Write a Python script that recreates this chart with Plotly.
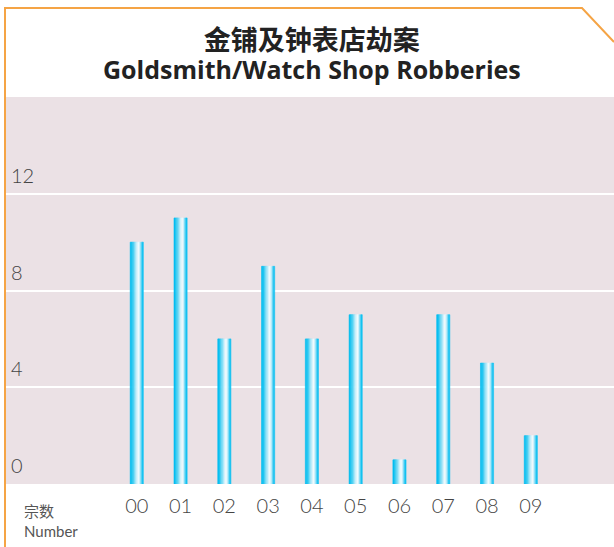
import plotly.graph_objects as go

years = ["00", "01", "02", "03", "04", "05", "06", "07", "08", "09"]
robberies = [10, 11, 6, 9, 6, 7, 1, 7, 5, 2]
y_ticks = [0, 4, 8, 12]
y_tick_labels = ["0", "4", "8", "12"]

title_cn = "金铺及钟表店劫案"
title_en = "Goldsmith/Watch Shop Robberies"
unit_cn = "宗数"
unit_en = "Number"

# horizontal gradient strips across each bar
strip_colors = ["#00bdf0", "#19c4f1", "#45cff3", "#79dcf6", "#a9e8f9",
                "#d6f4fc", "#f4fcfe", "#c9f0fb", "#6fd9f6", "#14c2f1"]
bar_width = 0.3
n = len(strip_colors)
sw = bar_width / n

W, H = 614, 547
ml, mr, mt, mb = 5, 0, 97, 63
pw, ph = W - ml - mr, H - mt - mb

def px2paper(px, py):
    return (px - ml) / pw, (H - mb - py) / ph

xs = list(range(len(years)))
fig = go.Figure()
for i, c in enumerate(strip_colors):
    fig.add_trace(go.Bar(
        x=xs, y=robberies, width=sw, offset=-bar_width / 2 + i * sw,
        marker=dict(color=c, line=dict(color=c, width=0.6)),
        hoverinfo="skip", showlegend=False,
    ))

tick_font = dict(size=20, family="Lato", color="#444444", weight=300)

annotations = []
# y tick labels sit just above their gridlines
for v, t in zip(y_ticks, y_tick_labels):
    annotations.append(dict(text=t, x=(9 - ml) / pw, xref="paper", y=v, yref="y",
                            xanchor="left", yanchor="bottom", yshift=5,
                            showarrow=False, font=tick_font))

tx, ty = px2paper(312, 52)
annotations.append(dict(
    text=("<b><span style='font-family:Noto Sans CJK SC;font-size:27px'>" + title_cn +
          "</span></b><br><b><span style='font-size:25px'>" + title_en + "</span></b>"),
    x=tx, y=ty, xref="paper", yref="paper", xanchor="center", yanchor="middle",
    showarrow=False, font=dict(size=22, family="Open Sans", color="#222222")))

ux, uy = px2paper(22, 520)
annotations.append(dict(
    text=("<span style='font-family:Noto Sans CJK SC'>" + unit_cn + "</span><br>" + unit_en),
    x=ux, y=uy, xref="paper", yref="paper", xanchor="left", yanchor="middle", align="left",
    showarrow=False, font=dict(size=15, family="Lato", color="#555555")))

fig.update_layout(
    width=W, height=H,
    margin=dict(l=ml, r=mr, t=mt, b=mb),
    paper_bgcolor="white",
    plot_bgcolor="#ebe1e5",
    barmode="overlay",
    showlegend=False,
    font=dict(family="Lato", color="#444444"),
    xaxis=dict(
        range=[-3.01, 10.9], tickvals=xs, ticktext=years,
        showgrid=False, zeroline=False, showline=False, ticks="",
        tickfont=tick_font, ticklabelstandoff=8,
    ),
    yaxis=dict(
        range=[0, 16], tickvals=y_ticks, showticklabels=False,
        showgrid=True, gridcolor="white", gridwidth=2,
        zeroline=False, showline=False, ticks="",
    ),
    annotations=annotations,
)

border = [(5, 547), (5, 8), (582, 8), (614, 42)]
path = "M " + " L ".join(f"{px2paper(x, y)[0]},{px2paper(x, y)[1]}" for x, y in border)
fig.add_shape(type="path", path=path, xref="paper", yref="paper",
              line=dict(color="#f5a445", width=2), layer="above")

fig.write_html("out.html", config={"displayModeBar": False},
               post_script="document.body.style.margin='0';document.body.style.overflow='hidden';")
